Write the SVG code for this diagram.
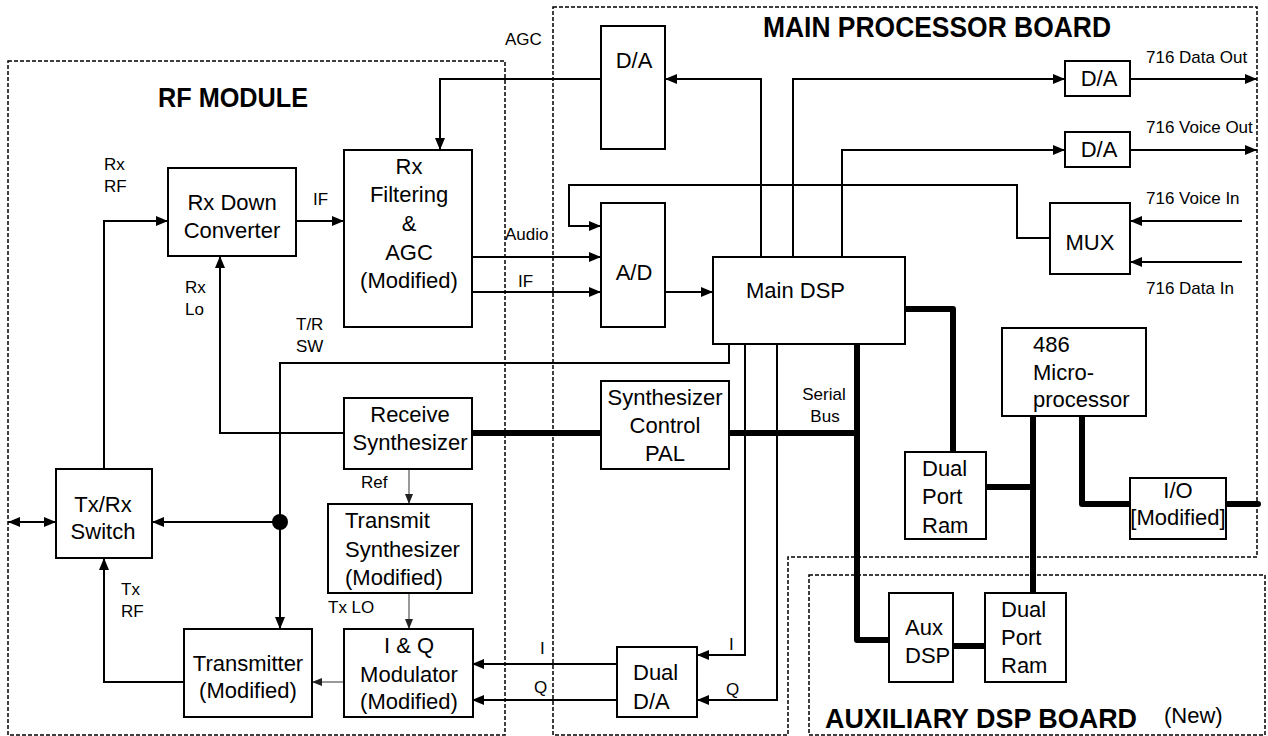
<svg xmlns="http://www.w3.org/2000/svg" width="1268" height="736" viewBox="0 0 1268 736">
<style>
text{font-family:"Liberation Sans",Arial,sans-serif;fill:#000}
.t{font-size:22px}
.c{text-anchor:middle}
.l{font-size:17px}
.h{font-size:28px;font-weight:bold}
.box{fill:#fff;stroke:#000;stroke-width:2}
.dash{fill:none;stroke:#000;stroke-width:1.5;stroke-dasharray:4 2}
.w{fill:none;stroke:#000;stroke-width:2}
.thin{fill:none;stroke:#555;stroke-width:1.2}
.bus{fill:none;stroke:#000;stroke-width:6;stroke-linecap:round;stroke-linejoin:round}
.a{marker-end:url(#ah)}
.s{marker-end:url(#sh)}
</style>
<defs>
<marker id="ah" markerUnits="userSpaceOnUse" viewBox="0 0 12 10" refX="12" refY="5" markerWidth="12" markerHeight="10" orient="auto-start-reverse"><path d="M0,0L12,5L0,10z" fill="#000"/></marker>
<marker id="sh" markerUnits="userSpaceOnUse" viewBox="0 0 10 8" refX="10" refY="4" markerWidth="10" markerHeight="8" orient="auto"><path d="M0,0L10,4L0,8z" fill="#222"/></marker>
</defs>
<rect width="1268" height="736" fill="#fff"/>
<g id="boards">
<rect class="dash" x="8" y="61" width="497" height="674"/>
<path class="dash" d="M553,7H1257V557H788V735H553Z"/>
<rect class="dash" x="809" y="575" width="456" height="160"/>
<text class="h" x="158" y="107" textLength="150" lengthAdjust="spacingAndGlyphs">RF MODULE</text>
<text class="h" x="763" y="37" textLength="348" lengthAdjust="spacingAndGlyphs" style="font-size:29px">MAIN PROCESSOR BOARD</text>
<text class="h" x="825" y="728" textLength="312" lengthAdjust="spacingAndGlyphs">AUXILIARY DSP BOARD</text>
<text class="t" x="1164" y="723">(New)</text>
</g>
<g id="connectors">
<path class="w a" d="M601,79H440V150"/>
<path class="w a" d="M761,257V79H665"/>
<path class="w a" d="M793,257V79H1065"/>
<path class="w a" d="M1130,79H1257"/>
<path class="w a" d="M842,257V150H1065"/>
<path class="w a" d="M1130,150H1257"/>
<path class="w a" d="M1242,221H1130"/>
<path class="w a" d="M1242,262H1130"/>
<path class="w a" d="M1050,238H1017V185H569V226H601"/>
<path class="w a" d="M472,257H601"/>
<path class="w a" d="M472,292H601"/>
<path class="w a" d="M665,292H713"/>
<path class="w a" d="M296,221H344"/>
<path class="w a" d="M104,469V221H168"/>
<path class="w a" d="M344,433H220V256"/>
<path class="w a" d="M729,344V363H280V629"/>
<path class="w a" d="M280,522H152"/>
<path class="w a" d="M8,522H56" marker-start="url(#ah)"/>
<path class="w a" d="M184,682H104V558"/>
<path class="thin s" d="M344,682H312"/>
<path class="thin s" d="M409,469V504"/>
<path class="thin s" d="M409,593V629"/>
<path class="w a" d="M745,344V655H697"/>
<path class="w a" d="M777,344V700H697"/>
<path class="w a" d="M617,664H472"/>
<path class="w a" d="M617,700H472"/>
<circle cx="280" cy="522" r="8" fill="#000"/>
<path class="bus" d="M905,309H953V452"/>
<path class="bus" d="M472,433H601"/>
<path class="bus" d="M729,433H857"/>
<path class="bus" d="M857,344V640H889"/>
<path class="bus" d="M986,487H1033"/>
<path class="bus" d="M1033,416V594"/>
<path class="bus" d="M1082,416V504H1130"/>
<path class="bus" d="M1226,504H1258"/>
<path class="bus" d="M953,646H985"/>
<text class="l" x="505" y="45">AGC</text>
<text class="l" x="104" y="170">Rx</text>
<text class="l" x="104" y="192">RF</text>
<text class="l" x="313" y="205">IF</text>
<text class="l" x="185" y="293">Rx</text>
<text class="l" x="185" y="315">Lo</text>
<text class="l" x="296" y="330">T/R</text>
<text class="l" x="296" y="352">SW</text>
<text class="l" x="505" y="240">Audio</text>
<text class="l" x="518" y="287">IF</text>
<text class="l" x="361" y="488">Ref</text>
<text class="l" x="121" y="595">Tx</text>
<text class="l" x="121" y="617">RF</text>
<text class="l" x="328" y="613">Tx LO</text>
<text class="l" x="540" y="654">I</text>
<text class="l" x="534" y="693">Q</text>
<text class="l c" x="824" y="400">Serial</text>
<text class="l c" x="825" y="422">Bus</text>
<text class="l" x="729" y="650">I</text>
<text class="l" x="726" y="695">Q</text>
<text class="l" x="1146" y="63">716 Data Out</text>
<text class="l" x="1146" y="133">716 Voice Out</text>
<text class="l" x="1146" y="204">716 Voice In</text>
<text class="l" x="1146" y="294">716 Data In</text>
</g>
<g id="rx-down-converter"><rect class="box" x="168" y="168" width="128" height="88"/><text class="t c" x="232" y="210">Rx Down</text><text class="t c" x="232" y="238">Converter</text></g>
<g id="rx-filtering"><rect class="box" x="344" y="150" width="128" height="177"/><text class="t c" x="409" y="174">Rx</text><text class="t c" x="409" y="202">Filtering</text><text class="t c" x="409" y="231">&amp;</text><text class="t c" x="409" y="260">AGC</text><text class="t c" x="409" y="288">(Modified)</text></g>
<g id="receive-synth"><rect class="box" x="344" y="398" width="128" height="71"/><text class="t c" x="410" y="422">Receive</text><text class="t c" x="410" y="450">Synthesizer</text></g>
<g id="transmit-synth"><rect class="box" x="328" y="504" width="144" height="89"/><text class="t" x="345" y="528">Transmit</text><text class="t" x="345" y="557">Synthesizer</text><text class="t" x="345" y="585">(Modified)</text></g>
<g id="iq-modulator"><rect class="box" x="344" y="629" width="129" height="88"/><text class="t c" x="409" y="653">I &amp; Q</text><text class="t c" x="409" y="682">Modulator</text><text class="t c" x="409" y="709">(Modified)</text></g>
<g id="transmitter"><rect class="box" x="184" y="629" width="128" height="88"/><text class="t c" x="248" y="671">Transmitter</text><text class="t c" x="248" y="698">(Modified)</text></g>
<g id="txrx-switch"><rect class="box" x="56" y="469" width="96" height="89"/><text class="t c" x="103" y="512">Tx/Rx</text><text class="t c" x="103" y="539">Switch</text></g>
<g id="da-agc"><rect class="box" x="601" y="26" width="64" height="123"/><text class="t c" x="634" y="68">D/A</text></g>
<g id="ad"><rect class="box" x="601" y="203" width="64" height="124"/><text class="t c" x="634" y="280">A/D</text></g>
<g id="main-dsp"><rect class="box" x="713" y="257" width="192" height="87"/><text class="t" x="746" y="298">Main DSP</text></g>
<g id="da-data"><rect class="box" x="1065" y="61" width="65" height="35"/><text class="t c" x="1099" y="86">D/A</text></g>
<g id="da-voice"><rect class="box" x="1065" y="132" width="65" height="35"/><text class="t c" x="1099" y="157">D/A</text></g>
<g id="mux"><rect class="box" x="1050" y="203" width="80" height="71"/><text class="t c" x="1090" y="250">MUX</text></g>
<g id="synth-pal"><rect class="box" x="601" y="381" width="128" height="88"/><text class="t c" x="665" y="405">Synthesizer</text><text class="t c" x="665" y="433">Control</text><text class="t c" x="665" y="461">PAL</text></g>
<g id="micro486"><rect class="box" x="1002" y="328" width="144" height="88"/><text class="t" x="1033" y="352">486</text><text class="t" x="1033" y="380">Micro-</text><text class="t" x="1033" y="407">processor</text></g>
<g id="dpr-main"><rect class="box" x="905" y="452" width="81" height="87"/><text class="t" x="922" y="476">Dual</text><text class="t" x="922" y="504">Port</text><text class="t" x="922" y="533">Ram</text></g>
<g id="io"><rect class="box" x="1130" y="478" width="96" height="61"/><text class="t c" x="1178" y="498">I/O</text><text class="t c" x="1178" y="525">[Modified]</text></g>
<g id="aux-dsp"><rect class="box" x="889" y="593" width="64" height="89"/><text class="t" x="905" y="635">Aux</text><text class="t" x="905" y="663">DSP</text></g>
<g id="dpr-aux"><rect class="box" x="985" y="593" width="81" height="89"/><text class="t" x="1001" y="617">Dual</text><text class="t" x="1001" y="645">Port</text><text class="t" x="1001" y="673">Ram</text></g>
<g id="dual-da"><rect class="box" x="617" y="647" width="80" height="70"/><text class="t" x="633" y="680">Dual</text><text class="t" x="633" y="709">D/A</text></g>
</svg>
